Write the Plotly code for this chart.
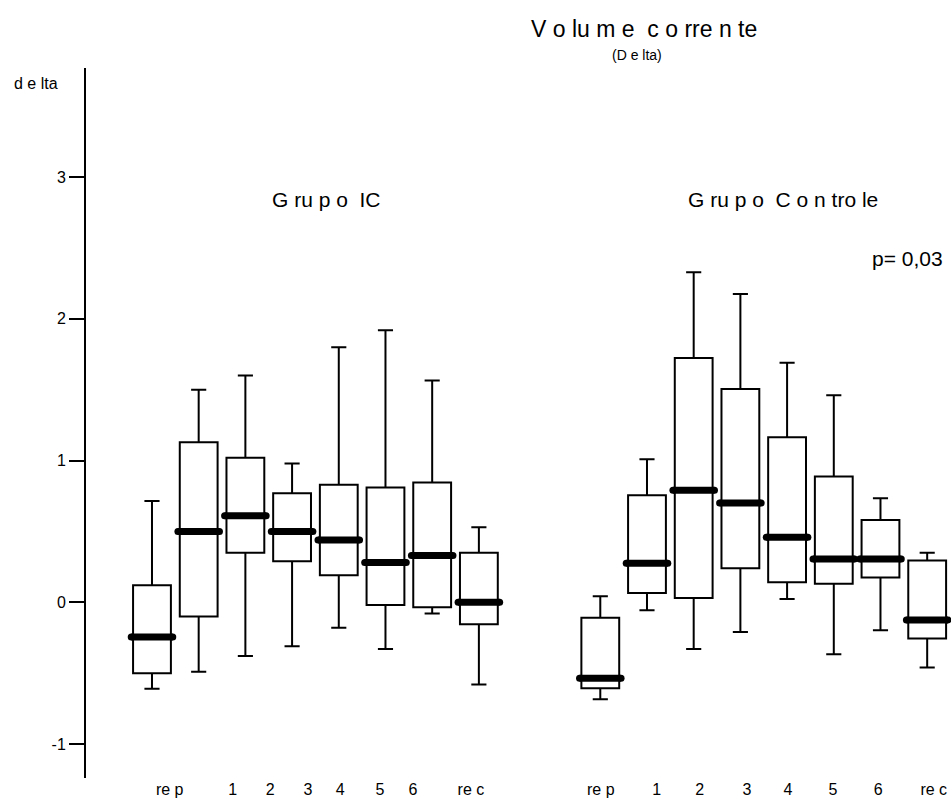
import plotly.graph_objects as go

# ---- data ----
categories = ["re p", "1", "2", "3", "4", "5", "6", "re c"]

ic_lower  = [-0.61, -0.49, -0.38, -0.31, -0.18, -0.33, -0.08, -0.58]
ic_q1     = [-0.50, -0.10, 0.35, 0.29, 0.19, -0.02, -0.035, -0.155]
ic_median = [-0.245, 0.50, 0.61, 0.50, 0.44, 0.28, 0.33, 0.0]
ic_q3     = [0.12, 1.13, 1.02, 0.77, 0.83, 0.81, 0.845, 0.35]
ic_upper  = [0.715, 1.50, 1.60, 0.98, 1.80, 1.92, 1.565, 0.53]

ctrl_lower  = [-0.685, -0.056, -0.33, -0.21, 0.023, -0.367, -0.198, -0.46]
ctrl_q1     = [-0.607, 0.066, 0.03, 0.24, 0.141, 0.13, 0.174, -0.256]
ctrl_median = [-0.537, 0.275, 0.79, 0.70, 0.459, 0.306, 0.306, -0.125]
ctrl_q3     = [-0.11, 0.755, 1.724, 1.505, 1.164, 0.887, 0.581, 0.294]
ctrl_upper  = [0.042, 1.009, 2.329, 2.176, 1.69, 1.46, 0.734, 0.35]

y_ticks = [-1, 0, 1, 2, 3]

# ---- layout positions (slots on a numeric x axis) ----
n = len(categories)
ic_pos = [float(i) for i in range(n)]
ctrl_pos = [9.6 + i for i in range(n)]
ic_label_pos = [0.38, 1.73, 2.53, 3.34, 4.03, 4.88, 5.59, 6.83]
ctrl_label_pos = [9.61, 10.81, 11.73, 12.74, 13.62, 14.58, 15.55, 16.74]
box_w = 0.81

FONT = "Arial, Liberation Sans, sans-serif"

# plot area in pixels (for placing free text)
PL, PR, PT, PB = 86, 951, 68, 778


def px(x):
    return (x - PL) / (PR - PL)


def py(y):
    return (PB - y) / (PB - PT)


fig = go.Figure()


def add_group(pos, lo, q1, med, q3, hi):
    fig.add_trace(go.Box(
        x=pos, lowerfence=lo, q1=q1, median=med, q3=q3, upperfence=hi,
        width=box_w, whiskerwidth=0.4,
        fillcolor="white", line=dict(color="black", width=2),
        boxpoints=False, showlegend=False, hoverinfo="skip",
    ))
    xs, ys = [], []
    for p, m in zip(pos, med):
        xs += [p - box_w / 2 - 0.04, p + box_w / 2 + 0.04, None]
        ys += [m, m, None]
    fig.add_trace(go.Scatter(
        x=xs, y=ys, mode="lines+markers",
        line=dict(color="black", width=7),
        marker=dict(color="black", size=7, symbol="circle"),
        showlegend=False, hoverinfo="skip",
    ))


add_group(ic_pos, ic_lower, ic_q1, ic_median, ic_q3, ic_upper)
add_group(ctrl_pos, ctrl_lower, ctrl_q1, ctrl_median, ctrl_q3, ctrl_upper)

fig.update_layout(
    width=951, height=804,
    margin=dict(l=PL, r=951 - PR, t=PT, b=804 - PB),
    paper_bgcolor="white", plot_bgcolor="white",
    font=dict(family=FONT, color="black", size=16),
    xaxis=dict(
        range=[-1.413, 17.11], showgrid=False, zeroline=False, showline=False,
        tickmode="array", tickvals=ic_label_pos + ctrl_label_pos,
        ticktext=categories + categories, ticks="", tickfont=dict(size=16),
    ),
    yaxis=dict(
        range=[-1.24, 3.77], showgrid=False, zeroline=False,
        showline=True, linecolor="black", linewidth=2,
        ticks="outside", ticklen=15, tickwidth=1.5, tickcolor="black",
        tickmode="array", tickvals=y_ticks, ticktext=[str(v) for v in y_ticks],
        tickfont=dict(size=16),
    ),
    annotations=[
        dict(text="V o lu m e  c o rre n te", x=px(644), y=py(29), xref="paper", yref="paper",
             showarrow=False, font=dict(size=23), xanchor="center", yanchor="middle"),
        dict(text="(D e lta)", x=px(637), y=py(55), xref="paper", yref="paper",
             showarrow=False, font=dict(size=14), xanchor="center", yanchor="middle"),
        dict(text="d e lta", x=px(12), y=py(84), xref="paper", yref="paper",
             showarrow=False, font=dict(size=16), xanchor="left", yanchor="middle"),
        dict(text="G ru p o  IC", x=px(326), y=py(200), xref="paper", yref="paper",
             showarrow=False, font=dict(size=21), xanchor="center", yanchor="middle"),
        dict(text="G ru p o  C o n tro le", x=px(783), y=py(200), xref="paper", yref="paper",
             showarrow=False, font=dict(size=21), xanchor="center", yanchor="middle"),
        dict(text="p= 0,03", x=px(870), y=py(258), xref="paper", yref="paper",
             showarrow=False, font=dict(size=21), xanchor="left", yanchor="middle"),
    ],
)

fig.write_html("out.html")
